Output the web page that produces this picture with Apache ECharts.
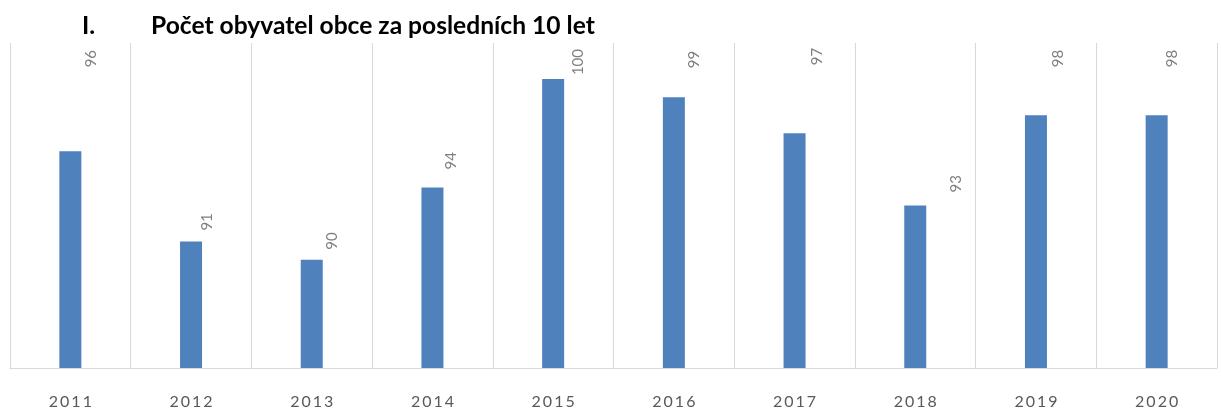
<!DOCTYPE html>
<html>
<head>
<meta charset="utf-8">
<script src="https://cdn.jsdelivr.net/npm/echarts@6/dist/echarts.min.js"></script>
<style>html,body{margin:0;padding:0;background:#fff}#c{width:1221px;height:410px}</style>
</head>
<body>
<div id="c"></div>
<script>
const categories = ['2011','2012','2013','2014','2015','2016','2017','2018','2019','2020'];
const population = [96, 91, 90, 94, 100, 99, 97, 93, 98, 98];
const titleNumber = 'I.';
const titleText = 'Počet obyvatel obce za posledních 10 let';

// manual label placement in screen pixels [right, down] from bar top, as in the original
const labelShift = [[21,-84],[16,-11],[20,-10],[19,-18],[25,-4],[20,-29],[23,-68],[41,-13],[22,-48],[16,-48]];

const chart = echarts.init(document.getElementById('c'));
chart.setOption({
  animation: false,
  title: [
    {text: titleNumber, left: 77, top: 9, textStyle: {fontFamily: 'Lato', fontWeight: 'bold', fontSize: 24.6, color: '#000'}},
    {text: titleText, left: 146, top: 9, textStyle: {fontFamily: 'Lato', fontWeight: 'bold', fontSize: 24.6, color: '#000'}}
  ],
  grid: {left: 10, right: 4, top: 43, bottom: 42, containLabel: false},
  xAxis: {
    type: 'category',
    data: categories,
    axisLine: {lineStyle: {color: '#d9d9d9', width: 1}},
    axisTick: {show: false},
    splitLine: {show: true, lineStyle: {color: '#d9d9d9', width: 1}},
    axisLabel: {
      color: '#595959', fontFamily: 'Lato', fontSize: 16, margin: 26,
      formatter: v => v.split('').join('\u2009')
    }
  },
  yAxis: {
    type: 'value', min: 84, max: 102, interval: 2,
    show: false, splitLine: {show: false}
  },
  series: [{
    type: 'bar',
    barWidth: 22,
    itemStyle: {color: '#4f81bd'},
    data: population.map((v, i) => ({
      value: v,
      // label offset is applied in the rotated frame: [-down, right]
      label: {offset: [-labelShift[i][1], labelShift[i][0]]}
    })),
    label: {
      show: true, position: 'top', distance: 0, rotate: 90,
      align: 'left', verticalAlign: 'middle',
      color: '#7f7f7f', fontFamily: 'Lato', fontSize: 15
    }
  }]
});
</script>
</body>
</html>
